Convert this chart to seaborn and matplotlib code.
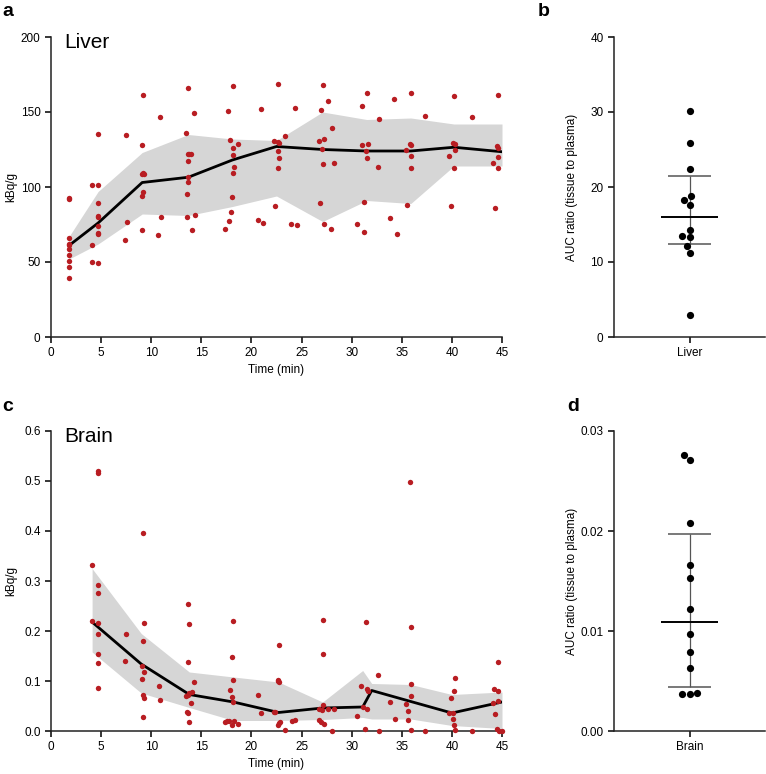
import numpy as np
import pandas as pd
import matplotlib
matplotlib.use('Agg')
import matplotlib.pyplot as plt
import seaborn as sns

# ---- liver time course (individual points) ----
liver_t = [1.8]*10 + [4.1, 4.7, 4.7, 4.7, 4.7, 4.7, 4.7, 4.7, 4.7, 4.1, 4.1, 4.7,
           7.5, 7.6, 7.4,
           9.2, 9.1, 9.2, 9.3, 9.1, 9.2, 9.1, 9.1,
           10.9, 11.0, 10.7,
           13.7, 13.5, 14.3, 13.7, 14.0, 13.8, 13.7, 13.7, 13.7, 13.6, 13.6, 14.4, 14.1,
           18.2, 17.7, 17.9, 18.7, 18.2, 18.2, 18.3, 18.2, 18.1, 18.0, 17.8, 17.4,
           22.6, 21.0, 22.3, 22.6, 22.7, 23.3, 22.6, 22.7, 22.6, 22.4, 20.7, 21.2,
           24.3, 23.9, 24.5,
           27.1, 27.6, 26.9, 28.0, 26.7, 27.2, 27.0, 27.1, 28.2, 26.8, 27.2, 27.9,
           31.5, 31.0, 32.7, 31.0, 31.6, 31.4, 31.5, 32.6, 31.2, 30.5, 31.2, 33.8, 34.2, 34.5,
           35.9, 37.3, 35.8, 35.9, 35.4, 35.9, 35.9, 35.5,
           40.2, 42.0, 40.1, 40.3, 40.3, 39.7, 40.2, 39.9,
           44.6, 44.5, 44.6, 44.6, 44.1, 44.6, 44.3]
liver_v = [92.7, 91.8, 66.0, 62.2, 61.1, 58.9, 54.9, 50.7, 46.4, 39.1,
           101.6, 101.1, 135.1, 89.6, 80.7, 80.0, 74.0, 69.3, 68.4, 61.6, 50.0, 49.6,
           134.4, 76.4, 64.4,
           161.1, 128.2, 109.6, 108.9, 108.4, 96.7, 94.0, 71.1,
           146.4, 79.8, 68.2,
           166.0, 135.8, 149.1, 122.2, 121.8, 122.0, 117.1, 106.7, 103.3, 95.6, 79.8, 81.6, 71.6,
           167.6, 150.9, 131.1, 128.4, 125.8, 121.6, 113.6, 109.3, 93.6, 83.3, 77.6, 72.2,
           168.4, 151.8, 130.4, 130.0, 129.1, 133.8, 124.0, 119.6, 112.7, 87.1, 78.2, 76.0,
           152.7, 75.1, 74.9,
           168.2, 157.1, 151.1, 139.1, 130.4, 132.2, 125.1, 115.3, 116.0, 89.6, 75.3, 72.2,
           162.7, 153.8, 145.1, 127.8, 128.4, 124.2, 119.1, 113.1, 90.2, 75.3, 70.2, 79.3, 158.7, 68.4,
           162.7, 147.1, 128.9, 128.2, 124.4, 120.9, 112.7, 88.2,
           160.9, 146.7, 129.6, 128.4, 124.7, 120.4, 112.7, 87.3,
           161.1, 127.6, 126.2, 120.0, 116.2, 112.4, 86.0]

# liver mean line and shaded band
liver_line_t = [1.8, 4.7, 9.1, 13.7, 18.1, 22.5, 27.1, 31.5, 35.9, 40.2, 45.0]
liver_mean = [61, 76, 103, 106.5, 118, 127, 125, 124, 124, 126.5, 123.5]
liver_hi = [67, 97, 123, 135, 132, 131, 150, 145, 146, 142, 142]
liver_lo = [52, 62, 82, 81, 87, 94, 77, 91, 89, 114, 114]

# ---- brain time course ----
brain_t = [4.1, 4.1, 4.7, 4.7, 4.7, 4.7, 4.7, 4.7, 4.7, 4.7, 4.7,
           7.5, 7.4,
           9.2, 9.3, 9.2, 9.1, 9.3, 9.1, 9.2, 9.3, 9.2,
           10.8, 10.9,
           13.7, 13.8, 13.7, 14.3, 14.1, 13.5, 13.7, 13.8, 14.0, 13.6, 13.7, 13.8,
           18.2, 18.1, 18.2, 17.9, 18.1, 18.2, 17.4, 17.6, 17.8, 18.3, 18.1, 18.7,
           20.7, 21.0,
           22.7, 22.6, 22.6, 22.7, 22.3, 22.4, 22.6, 22.7, 22.8, 23.3,
           24.0, 24.3,
           27.1, 27.1, 27.1, 26.7, 27.0, 27.6, 28.2, 26.7, 26.9, 27.2, 28.0,
           31.4, 30.9, 31.5, 31.6, 31.1, 31.5, 30.5, 31.3, 32.6, 32.7, 33.8, 34.3,
           35.8, 35.9, 35.9, 35.9, 35.4, 35.6, 35.6, 35.9, 37.3,
           40.3, 40.2, 39.9, 39.7, 40.1, 40.1, 40.2, 40.3, 42.0,
           44.6, 44.2, 44.6, 44.6, 44.1, 44.3, 44.5, 44.7, 45.0]
brain_v = [0.333, 0.221, 0.520, 0.516, 0.293, 0.277, 0.216, 0.194, 0.155, 0.137, 0.087,
           0.195, 0.141,
           0.396, 0.216, 0.181, 0.131, 0.118, 0.105, 0.073, 0.067, 0.028,
           0.090, 0.063,
           0.255, 0.215, 0.139, 0.098, 0.078, 0.071, 0.073, 0.076, 0.056, 0.039, 0.036, 0.019,
           0.221, 0.148, 0.103, 0.082, 0.068, 0.059, 0.019, 0.021, 0.021, 0.021, 0.013, 0.014,
           0.072, 0.037,
           0.173, 0.103, 0.100, 0.098, 0.039, 0.039, 0.013, 0.016, 0.018, 0.003,
           0.020, 0.022,
           0.223, 0.155, 0.053, 0.045, 0.042, 0.045, 0.045, 0.023, 0.019, 0.014, 0.000,
           0.219, 0.091, 0.084, 0.080, 0.048, 0.044, 0.031, 0.005, 0.112, 0.000, 0.059, 0.025,
           0.497, 0.208, 0.095, 0.071, 0.055, 0.041, 0.023, 0.003, 0.000,
           0.107, 0.081, 0.066, 0.036, 0.036, 0.024, 0.013, 0.003, 0.000,
           0.138, 0.085, 0.081, 0.061, 0.057, 0.035, 0.005, 0.001, 0.000]

brain_line_t = [4.1, 9.0, 13.8, 18.2, 22.7, 27.1, 31.1, 32.0, 35.9, 40.0, 45.0]
brain_mean = [0.218, 0.134, 0.073, 0.058, 0.037, 0.046, 0.048, 0.081, 0.059, 0.036, 0.058]
brain_hi = [0.325, 0.195, 0.118, 0.108, 0.098, 0.058, 0.121, 0.095, 0.093, 0.073, 0.078]
brain_lo = [0.158, 0.076, 0.047, 0.021, 0.021, 0.023, 0.027, 0.024, 0.024, 0.011, 0.005]

# ---- AUC ratios ----
liver_auc = [30.2, 25.9, 22.4, 18.3, 18.8, 17.6, 14.3, 13.5, 13.3, 12.1, 11.2, 3.0]
brain_auc = [0.0276, 0.0271, 0.0208, 0.0166, 0.0153, 0.0122, 0.0097, 0.0079, 0.0063,
             0.0037, 0.0038, 0.0037]

sns.set_style('ticks')
plt.rcParams['font.family'] = ['Liberation Sans', 'DejaVu Sans']
plt.rcParams['font.size'] = 8.5
plt.rcParams['axes.linewidth'] = 1.1
plt.rcParams['xtick.major.width'] = 1.1
plt.rcParams['ytick.major.width'] = 1.1
plt.rcParams['xtick.major.size'] = 4
plt.rcParams['ytick.major.size'] = 4
plt.rcParams['xtick.labelsize'] = 8.5
plt.rcParams['ytick.labelsize'] = 8.5
for k in ['text.color', 'axes.labelcolor', 'xtick.color', 'ytick.color']:
    plt.rcParams[k] = 'black'
plt.rcParams['axes.edgecolor'] = '#222222'

RED = '#B81D22'
W, H = 766, 774
fig = plt.figure(figsize=(W / 100, H / 100), dpi=100)


def box(x0, y0, x1, y1):
    return [x0 / W, 1 - y1 / H, (x1 - x0) / W, (y1 - y0) / H]


def time_panel(ax, t, v, lt, lm, lhi, llo, ymax, yticks, title):
    ax.fill_between(lt, llo, lhi, color='#D6D6D6', lw=0, zorder=1)
    sns.lineplot(x=lt, y=lm, ax=ax, color='black', lw=2, sort=False,
                 estimator=None, zorder=3)
    sns.scatterplot(x=t, y=v, ax=ax, color=RED, s=15, linewidth=0,
                    zorder=4, clip_on=False)
    ax.set_xlim(0, 45)
    ax.set_ylim(0, ymax)
    ax.set_xticks(range(0, 46, 5))
    ax.set_yticks(yticks)
    ax.set_xlabel('Time (min)', fontsize=8.5, labelpad=3)
    ax.set_ylabel('kBq/g', fontsize=8.5)
    ax.yaxis.set_label_coords(-0.0754, 0.5)
    ax.text(0.03, 1.015, title, transform=ax.transAxes, fontsize=15,
            va='top', ha='left')
    sns.despine(ax=ax)


def auc_panel(ax, vals, name, ymax, yticks, fmt):
    df = pd.DataFrame({'tissue': name, 'auc': vals})
    sns.swarmplot(data=df, x='tissue', y='auc', ax=ax, color='black', size=5.2,
                  zorder=4)
    q1, med, q3 = np.percentile(vals, [25, 50, 75], method='weibull')
    ax.vlines(0, q1, q3, color='#555555', lw=0.9, zorder=2)
    ax.hlines([q1, q3], -0.14, 0.14, color='#555555', lw=1.1, zorder=2)
    ax.hlines(med, -0.19, 0.19, color='black', lw=1.4, zorder=3)
    ax.set_xlim(-0.5, 0.5)
    ax.set_ylim(0, ymax)
    ax.set_yticks(yticks)
    ax.set_yticklabels([fmt.format(y) for y in yticks])
    ax.set_xlabel('')
    ax.set_ylabel('AUC ratio (tissue to plasma)', fontsize=8.5)
    ax.yaxis.set_label_coords(-0.238, 0.5)
    sns.despine(ax=ax)


ax_a = fig.add_axes(box(51, 37, 502, 337))
time_panel(ax_a, liver_t, liver_v, liver_line_t, liver_mean, liver_hi, liver_lo,
           200, [0, 50, 100, 150, 200], 'Liver')

ax_c = fig.add_axes(box(51, 431, 502, 731))
time_panel(ax_c, brain_t, brain_v, brain_line_t, brain_mean, brain_hi, brain_lo,
           0.6, [0, 0.1, 0.2, 0.3, 0.4, 0.5, 0.6], 'Brain')
ax_c.set_yticklabels(['0.0', '0.1', '0.2', '0.3', '0.4', '0.5', '0.6'])

ax_b = fig.add_axes(box(614, 37, 765, 337))
auc_panel(ax_b, liver_auc, 'Liver', 40, [0, 10, 20, 30, 40], '{:.0f}')

ax_d = fig.add_axes(box(614, 431, 765, 731))
auc_panel(ax_d, brain_auc, 'Brain', 0.03, [0, 0.01, 0.02, 0.03], '{:.2f}')

for lab, x, y in [('a', 2, 3), ('b', 538, 3), ('c', 2, 398), ('d', 567, 398)]:
    fig.text(x / W, 1 - y / H, lab, fontsize=14, fontweight='bold',
             va='top', ha='left')

fig.savefig('out.png', dpi=100)
